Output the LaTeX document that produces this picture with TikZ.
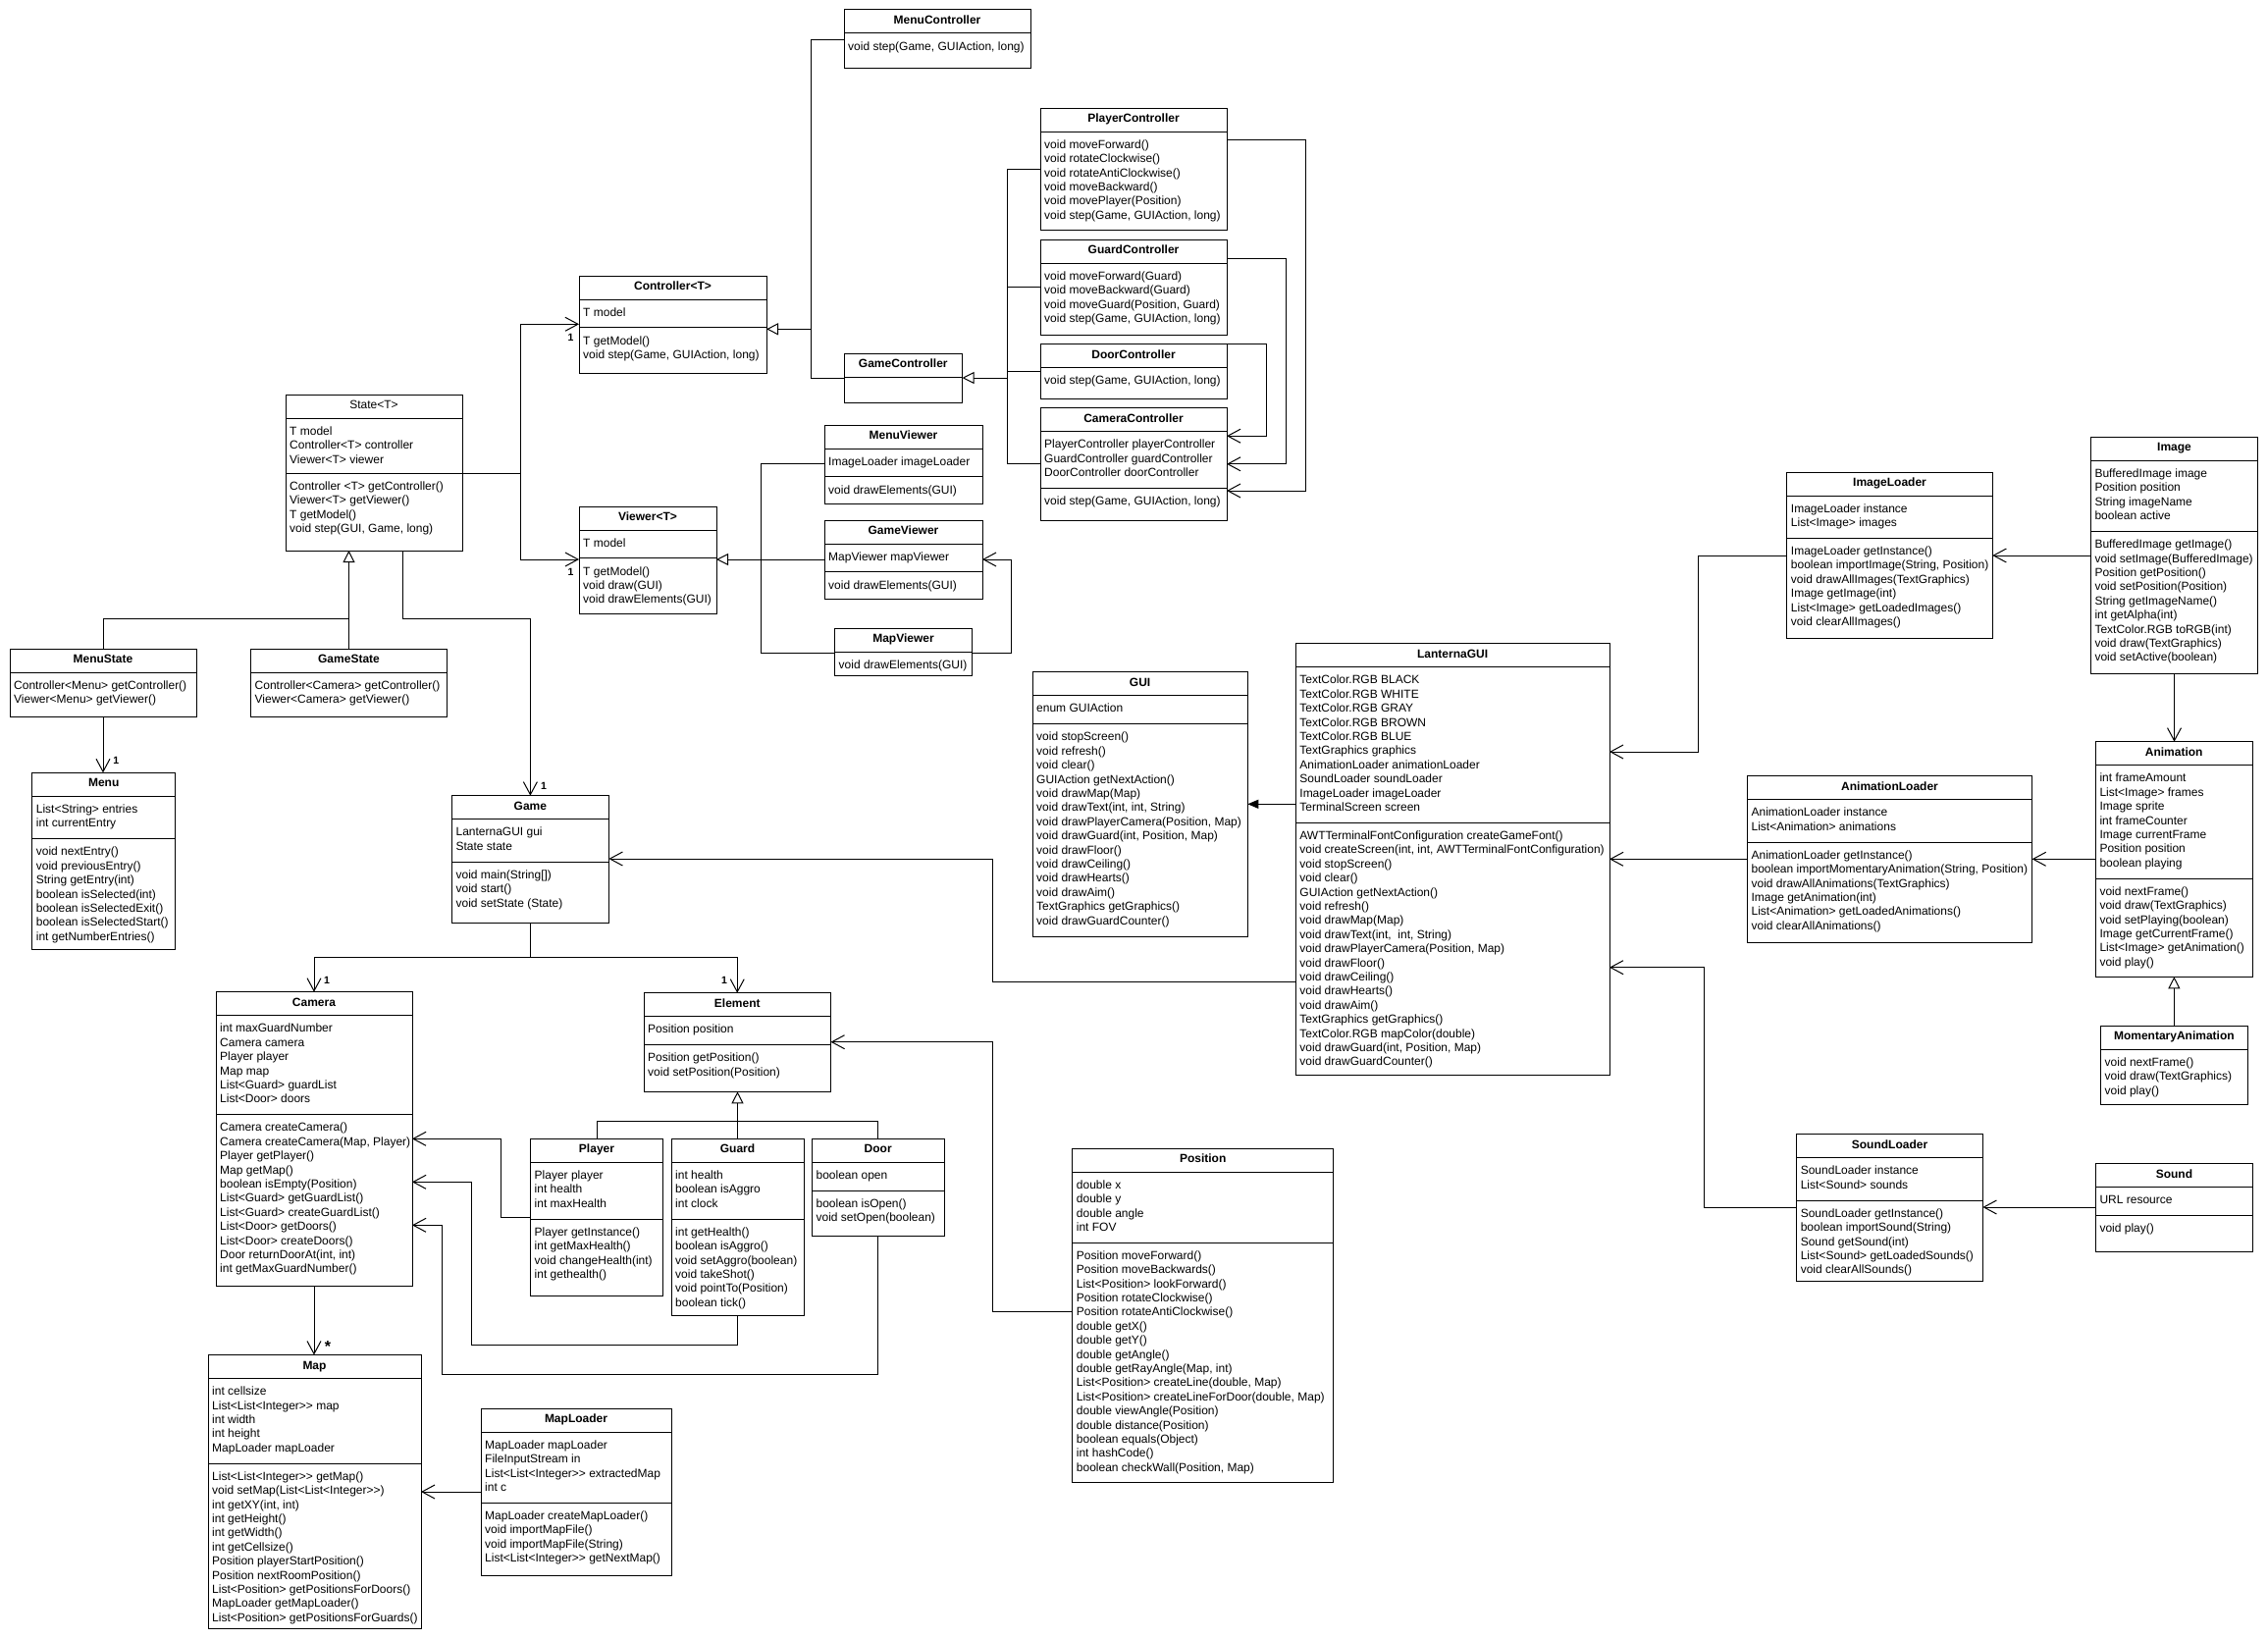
\documentclass[tikz,border=0pt]{standalone}
\usepackage{fontspec}
\setmainfont{Liberation Sans}
\usetikzlibrary{arrows.meta}
\newcommand\ufs{\fontsize{12}{14.4}\selectfont}
\newcommand\dgt{>\kern0pt>}
\tikzset{
  ubox/.style={draw, line width=1pt, anchor=north west, inner sep=0pt, outer sep=0pt, rectangle},
  utitle/.style={anchor=base, inner sep=0pt, font=\ufs\bfseries},
  utitlen/.style={anchor=base, inner sep=0pt, font=\ufs},
  utxt/.style={anchor=north west, inner sep=0pt, align=left, font=\ufs},
  udiv/.style={line width=1pt},
  conn/.style={line width=1pt},
  assoc/.style={conn, -{Straight Barb[length=13pt,width=14pt]}},
  inh/.style={conn, -{Triangle[length=12pt,width=12pt,fill=white]}},
  real/.style={conn, -{Triangle[length=11pt,width=9pt]}},
  mult/.style={font=\fontsize{10.5}{12}\selectfont\bfseries, inner sep=0pt},
}
\newcommand\ucls[7][utitle]{%
  \node[ubox,minimum width=#5pt,minimum height=#6pt] (#2) at (#3,#4) {};
  \node[#1] (#2t) at ([yshift=-14.5pt]#2.north) {#7};
  \draw[udiv] ([yshift=-24pt]#2.north west) -- ([yshift=-24pt]#2.north east);
}
\newcommand\udv[2]{\draw[udiv] ([yshift=-#2pt]#1.north west) -- ([yshift=-#2pt]#1.north east);}
\newcommand\utx[4]{\node[utxt] (#1#2) at ([xshift=4pt,yshift=-#3pt-5.5pt]#1.north west) {\rule{0pt}{11.5pt}#4};}
\begin{document}
\begin{tikzpicture}[x=1pt,y=-1pt,font=\ufs]
\useasboundingbox (0,0) rectangle (2311,1670);
\fill[white] (0,0) rectangle (2311,1670);

% ---------------- controllers
\ucls{mctl}{860}{10}{190}{60}{MenuController}
\utx{mctl}{m}{24}{void step(Game, GUIAction, long)}

\ucls{pctl}{1060}{110}{190}{124}{PlayerController}
\utx{pctl}{m}{24}{void moveForward()\\void rotateClockwise()\\void rotateAntiClockwise()\\void moveBackward()\\void movePlayer(Position)\\void step(Game, GUIAction, long)}

\ucls{gctl}{1060}{244}{190}{97}{GuardController}
\utx{gctl}{m}{24}{void moveForward(Guard)\\void moveBackward(Guard)\\void moveGuard(Position, Guard)\\void step(Game, GUIAction, long)}

\ucls{dctl}{1060}{350.5}{190}{56}{DoorController}
\utx{dctl}{m}{24}{void step(Game, GUIAction, long)}

\ucls{cctl}{1060}{415.6}{190}{115}{CameraController}
\utx{cctl}{f}{24}{PlayerController playerController\\GuardController guardController\\DoorController doorController}
\udv{cctl}{81.7}
\utx{cctl}{m}{81.7}{void step(Game, GUIAction, long)}

\ucls{gmctl}{860}{360}{120.5}{50}{GameController}

\ucls{ctrl}{590}{281}{191}{99}{Controller<T>}
\utx{ctrl}{f}{24}{T model}
\udv{ctrl}{52.9}
\utx{ctrl}{m}{52.9}{T getModel()\\void step(Game, GUIAction, long)}

% ---------------- state / viewers
\ucls[utitlen]{state}{291}{402}{180}{159}{State<T>}
\utx{state}{f}{24}{T model\\Controller<T> controller\\Viewer<T> viewer}
\udv{state}{80}
\utx{state}{m}{80}{Controller <T> getController()\\Viewer<T> getViewer()\\T getModel()\\void step(GUI, Game, long)}

\ucls{viewer}{590}{516}{140}{109}{Viewer<T>}
\utx{viewer}{f}{24}{T model}
\udv{viewer}{52.9}
\utx{viewer}{m}{52.9}{T getModel()\\void draw(GUI)\\void drawElements(GUI)}

\ucls{mview}{840}{433}{161}{80}{MenuViewer}
\utx{mview}{f}{24}{ImageLoader imageLoader}
\udv{mview}{52.9}
\utx{mview}{m}{52.9}{void drawElements(GUI)}

\ucls{gview}{840}{530}{161}{80}{GameViewer}
\utx{gview}{f}{24}{MapViewer mapViewer}
\udv{gview}{52.9}
\utx{gview}{m}{52.9}{void drawElements(GUI)}

\ucls{mapview}{850.5}{640}{140}{48}{MapViewer}
\utx{mapview}{m}{24}{void drawElements(GUI)}

\ucls{mstate}{10}{661}{190}{69}{MenuState}
\utx{mstate}{m}{24}{Controller<Menu> getController()\\Viewer<Menu> getViewer()}

\ucls{gstate}{255.5}{661}{200}{69}{GameState}
\utx{gstate}{m}{24}{Controller<Camera> getController()\\Viewer<Camera> getViewer()}

\ucls{menu}{32.7}{787.3}{146}{180}{Menu}
\utx{menu}{f}{24}{List<String> entries\\int currentEntry}
\udv{menu}{67.3}
\utx{menu}{m}{67.3}{void nextEntry()\\void previousEntry()\\String getEntry(int)\\boolean isSelected(int)\\boolean isSelectedExit()\\boolean isSelectedStart()\\int getNumberEntries()}

\ucls{game}{460.4}{810.7}{160}{129.3}{Game}
\utx{game}{f}{24}{LanternaGUI gui\\State state}
\udv{game}{67.3}
\utx{game}{m}{67.3}{void main(String[])\\void start()\\void setState (State)}

% ---------------- model
\ucls{camera}{220}{1010.7}{200}{300}{Camera}
\utx{camera}{f}{24}{int maxGuardNumber\\Camera camera\\Player player\\Map map\\List<Guard> guardList\\List<Door> doors}
\udv{camera}{124.9}
\utx{camera}{m}{124.9}{Camera createCamera()\\Camera createCamera(Map, Player)\\Player getPlayer()\\Map getMap()\\boolean isEmpty(Position)\\List<Guard> getGuardList()\\List<Guard> createGuardList()\\List<Door> getDoors()\\List<Door> createDoors()\\Door returnDoorAt(int, int)\\int getMaxGuardNumber()}

\ucls{element}{656}{1011.7}{190.5}{100.6}{Element}
\utx{element}{f}{24}{Position position}
\udv{element}{52.9}
\utx{element}{m}{52.9}{Position getPosition()\\void setPosition(Position)}

\ucls{player}{540.5}{1160.3}{135}{160}{Player}
\utx{player}{f}{24}{Player player\\int health\\int maxHealth}
\udv{player}{81.7}
\utx{player}{m}{81.7}{Player getInstance()\\int getMaxHealth()\\void changeHealth(int)\\int gethealth()}

\ucls{guard}{684}{1160.3}{135}{179.7}{Guard}
\utx{guard}{f}{24}{int health\\boolean isAggro\\int clock}
\udv{guard}{81.7}
\utx{guard}{m}{81.7}{int getHealth()\\boolean isAggro()\\void setAggro(boolean)\\void takeShot()\\void pointTo(Position)\\boolean tick()}

\ucls{door}{827.4}{1160.3}{134.6}{98.7}{Door}
\utx{door}{f}{24}{boolean open}
\udv{door}{52.9}
\utx{door}{m}{52.9}{boolean isOpen()\\void setOpen(boolean)}

\ucls{map}{212}{1380.5}{217}{279}{Map}
\utx{map}{f}{24}{int cellsize\\List<List<Integer\dgt\ map\\int width\\int height\\MapLoader mapLoader}
\udv{map}{110.5}
\utx{map}{m}{110.5}{List<List<Integer\dgt\ getMap()\\void setMap(List<List<Integer\dgt)\\int getXY(int, int)\\int getHeight()\\int getWidth()\\int getCellsize()\\Position playerStartPosition()\\Position nextRoomPosition()\\List<Position> getPositionsForDoors()\\MapLoader getMapLoader()\\List<Position> getPositionsForGuards()}

\ucls{maploader}{490}{1435}{194}{170}{MapLoader}
\utx{maploader}{f}{24}{MapLoader mapLoader\\FileInputStream in\\List<List<Integer\dgt\ extractedMap\\int c}
\udv{maploader}{96.1}
\utx{maploader}{m}{96.1}{MapLoader createMapLoader()\\void importMapFile()\\void importMapFile(String)\\List<List<Integer\dgt\ getNextMap()}

% ---------------- GUI
\ucls{gui}{1052}{684.7}{219.3}{269.3}{GUI}
\utx{gui}{f}{24}{enum GUIAction}
\udv{gui}{52.9}
\utx{gui}{m}{52.9}{void stopScreen()\\void refresh()\\void clear()\\GUIAction getNextAction()\\void drawMap(Map)\\void drawText(int, int, String)\\void drawPlayerCamera(Position, Map)\\void drawGuard(int, Position, Map)\\void drawFloor()\\void drawCeiling()\\void drawHearts()\\void drawAim()\\TextGraphics getGraphics()\\void drawGuardCounter()}

\ucls{lgui}{1320.2}{655.7}{319.8}{439.6}{LanternaGUI}
\utx{lgui}{f}{24}{TextColor.RGB BLACK\\TextColor.RGB WHITE\\TextColor.RGB GRAY\\TextColor.RGB BROWN\\TextColor.RGB BLUE\\TextGraphics graphics\\AnimationLoader animationLoader\\SoundLoader soundLoader\\ImageLoader imageLoader\\TerminalScreen screen}
\udv{lgui}{182.5}
\utx{lgui}{m}{182.5}{AWTTerminalFontConfiguration createGameFont()\\void createScreen(int, int, AWTTerminalFontConfiguration)\\void stopScreen()\\void clear()\\GUIAction getNextAction()\\void refresh()\\void drawMap(Map)\\void drawText(int,~ int, String)\\void drawPlayerCamera(Position, Map)\\void drawFloor()\\void drawCeiling()\\void drawHearts()\\void drawAim()\\TextGraphics getGraphics()\\TextColor.RGB mapColor(double)\\void drawGuard(int, Position, Map)\\void drawGuardCounter()}

\ucls{position}{1092.7}{1170}{266}{340}{Position}
\utx{position}{f}{24}{double x\\double y\\double angle\\int FOV}
\udv{position}{96.1}
\utx{position}{m}{96.1}{Position moveForward()\\Position moveBackwards()\\List<Position> lookForward()\\Position rotateClockwise()\\Position rotateAntiClockwise()\\double getX()\\double getY()\\double getAngle()\\double getRayAngle(Map, int)\\List<Position> createLine(double, Map)\\List<Position> createLineForDoor(double, Map)\\double viewAngle(Position)\\double distance(Position)\\boolean equals(Object)\\int hashCode()\\boolean checkWall(Position, Map)}

% ---------------- loaders
\ucls{imgl}{1820.7}{481}{209.6}{169.7}{ImageLoader}
\utx{imgl}{f}{24}{ImageLoader instance\\List<Image> images}
\udv{imgl}{67.3}
\utx{imgl}{m}{67.3}{ImageLoader getInstance()\\boolean importImage(String, Position)\\void drawAllImages(TextGraphics)\\Image getImage(int)\\List<Image> getLoadedImages()\\void clearAllImages()}

\ucls{image}{2130.3}{445.3}{170.4}{240.7}{Image}
\utx{image}{f}{24}{BufferedImage image\\Position position\\String imageName\\boolean active}
\udv{image}{96.1}
\utx{image}{m}{96.1}{BufferedImage getImage()\\void setImage(BufferedImage)\\Position getPosition()\\void setPosition(Position)\\String getImageName()\\int getAlpha(int)\\TextColor.RGB toRGB(int)\\void draw(TextGraphics)\\void setActive(boolean)}

\ucls{animl}{1780.4}{790.7}{290.2}{169.3}{AnimationLoader}
\utx{animl}{f}{24}{AnimationLoader instance\\List<Animation> animations}
\udv{animl}{67.3}
\utx{animl}{m}{67.3}{AnimationLoader getInstance()\\boolean importMomentaryAnimation(String, Position)\\void drawAllAnimations(TextGraphics)\\Image getAnimation(int)\\List<Animation> getLoadedAnimations()\\void clearAllAnimations()}

\ucls{anim}{2135.3}{755.7}{159.8}{239.6}{Animation}
\utx{anim}{f}{24}{int frameAmount\\List<Image> frames\\Image sprite\\int frameCounter\\Image currentFrame\\Position position\\boolean playing}
\udv{anim}{139.3}
\utx{anim}{m}{139.3}{void nextFrame()\\void draw(TextGraphics)\\void setPlaying(boolean)\\Image getCurrentFrame()\\List<Image> getAnimation()\\void play()}

\ucls{manim}{2140.5}{1045.3}{149.7}{79.7}{MomentaryAnimation}
\utx{manim}{m}{24}{void nextFrame()\\void draw(TextGraphics)\\void play()}

\ucls{sndl}{1830.6}{1155.7}{189.8}{150}{SoundLoader}
\utx{sndl}{f}{24}{SoundLoader instance\\List<Sound> sounds}
\udv{sndl}{67.3}
\utx{sndl}{m}{67.3}{SoundLoader getInstance()\\boolean importSound(String)\\Sound getSound(int)\\List<Sound> getLoadedSounds()\\void clearAllSounds()}

\ucls{sound}{2135.3}{1185.7}{160.2}{89.3}{Sound}
\utx{sound}{f}{24}{URL resource}
\udv{sound}{52.9}
\utx{sound}{m}{52.9}{void play()}

% ---------------- connectors
% controllers
\draw[conn] (mctl.west |- 0,40.3) -- (826,40.3) |- (gmctl.west |- 0,385);
\draw[inh] (826,335.3) -- (ctrl.east |- 0,335.3);
\draw[conn] (pctl.west |- 0,172.2) -- (1026,172.2) |- (cctl.west |- 0,472.8);
\draw[conn] (gctl.west |- 0,292.4) -- (1026,292.4);
\draw[conn] (dctl.west |- 0,378) -- (1026,378);
\draw[inh] (1026,385) -- (gmctl.east |- 0,385);
\draw[assoc] (pctl.east |- 0,142.9) -- (1330,142.9) |- (cctl.east |- 0,500);
\draw[assoc] (gctl.east |- 0,263.4) -- (1310,263.4) |- (cctl.east |- 0,472.8);
\draw[assoc] (dctl.north east) -- (1290.4,0 |- dctl.north east) |- (cctl.east |- 0,444.2);
% state
\draw[assoc] (state.east |- 0,482) -- (530.6,482) |- (ctrl.west |- 0,330.3);
\draw[assoc] (530.6,482) |- (viewer.west |- 0,570);
\draw[inh] (gstate.north) -- (gstate.north |- state.south);
\draw[conn] (mstate.north) |- (gstate.north |- 0,630);
\draw[assoc] (410.9,0 |- state.south) |- (game.north |- 0,630) -- (game.north);
\draw[assoc] (mstate.south) -- (mstate.south |- menu.north);
% viewers
\draw[conn] (mview.west |- 0,472.8) -- (775.4,472.8) |- (mapview.west |- 0,665);
\draw[inh] (gview.west |- 0,570) -- (viewer.east |- 0,570);
\draw[assoc] (mapview.east |- 0,665) -- (1030.4,665) |- (gview.east |- 0,570);
% game
\draw[assoc] (game.south) -- (game.south |- 0,975) -| (camera.north);
\draw[assoc] (game.south |- 0,975) -| (element.north);
% elements
\draw[inh] (guard.north) -- (guard.north |- element.south);
\draw[conn] (player.north) |- (door.north |- 0,1142.3) -- (door.north);
\draw[assoc] (player.west |- 0,1240) -- (510.6,1240) |- (camera.east |- 0,1160.3);
\draw[assoc] (guard.south) -- (guard.south |- 0,1370) -| (480.6,1204.3) -- (camera.east |- 0,1204.3);
\draw[assoc] (door.south) -- (door.south |- 0,1400) -| (450.7,1248.3) -- (camera.east |- 0,1248.3);
\draw[assoc] (camera.south) -- (camera.south |- map.north);
\draw[assoc] (maploader.west |- 0,1520) -- (map.east |- 0,1520);
\draw[assoc] (position.west |- 0,1336.6) -- (1011,1336.6) |- (element.east |- 0,1061.7);
% gui
\draw[assoc] (lgui.west |- 0,1000) -- (1011,1000) |- (game.east |- 0,875);
\draw[real] (lgui.west |- 0,819.3) -- (gui.east |- 0,819.3);
\draw[assoc] (imgl.west |- 0,566) -- (1730,566) |- (lgui.east |- 0,766);
\draw[assoc] (animl.west |- 0,875.3) -- (lgui.east |- 0,875.3);
\draw[assoc] (sndl.west |- 0,1230) -- (1736,1230) |- (lgui.east |- 0,985.7);
\draw[assoc] (image.west |- 0,566) -- (imgl.east |- 0,566);
\draw[assoc] (image.south) -- (image.south |- anim.north);
\draw[assoc] (anim.west |- 0,875.3) -- (animl.east |- 0,875.3);
\draw[inh] (manim.north) -- (manim.north |- anim.south);
\draw[assoc] (sound.west |- 0,1230) -- (sndl.east |- 0,1230);

% multiplicities
\node[mult] (mu1) at (581.5,344) {1};
\node[mult] (mu2) at (581.5,583) {1};
\node[mult] (mu3) at (118.4,775) {1};
\node[mult] (mu4) at (554,800.7) {1};
\node[mult] (mu5) at (333,999.3) {1};
\node[mult] (mu6) at (738,999.3) {1};
\node[mult,font=\fontsize{16}{16}\selectfont\bfseries] (mu7) at (334,1372) {*};
\end{tikzpicture}
\end{document}
